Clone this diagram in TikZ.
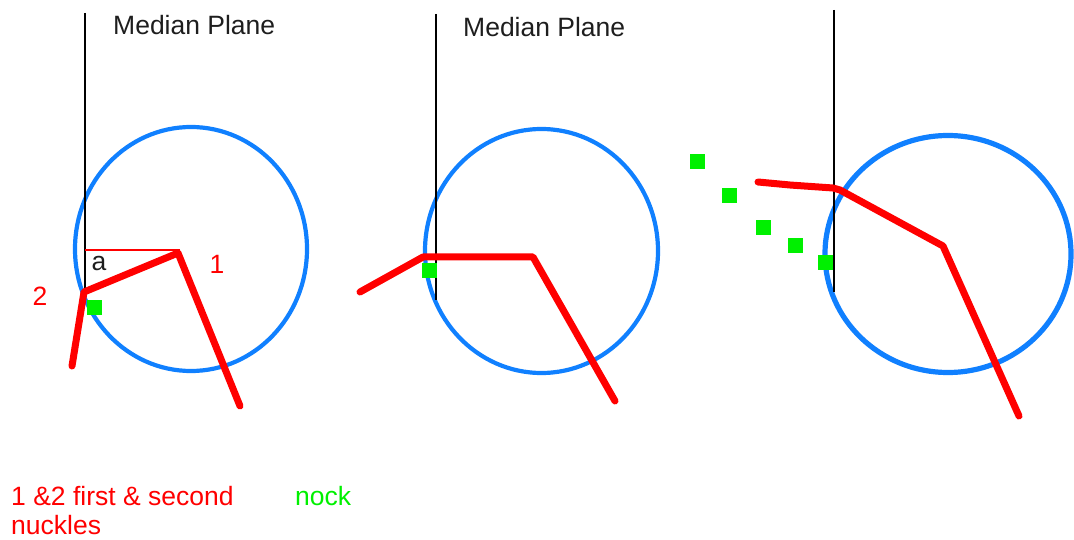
\documentclass[tikz,border=0pt]{standalone}
\usepackage{fontspec}
\setmainfont{Liberation Sans}
\definecolor{circblue}{RGB}{16,128,255}
\definecolor{knred}{RGB}{255,0,0}
\definecolor{nockgreen}{RGB}{0,240,0}
\definecolor{txtgray}{RGB}{30,30,30}
\tikzset{
  plane/.style={draw=black, line width=1.3pt},
  ring/.style={draw=circblue, line width=4.2pt},
  finger/.style={draw=knred, line width=7pt, line cap=round, line join=round},
  thinred/.style={draw=knred, line width=1.2pt},
  nocksq/.style={fill=nockgreen, draw=none, minimum size=15pt, inner sep=0pt, rectangle},
  lbl/.style={font=\fontsize{26.5}{30}\selectfont, inner sep=0pt},
}
\begin{document}
\begin{tikzpicture}[x=1pt, y=-1pt]
\useasboundingbox (0,0) rectangle (1074,540);
% ---------- panel 1 ----------
\draw[ring] (191,249) ellipse [x radius=116, y radius=122];
\coordinate (p1top) at (85,13);
\coordinate (p1bot) at (85,290);
\draw[plane] (p1top) -- (p1bot);
\node[lbl, anchor=base west, text=txtgray] (mp1) at (113,35) {Median Plane};
\coordinate (k1a) at (178,253);
\coordinate (k2a) at (84,292);
\coordinate (e1a) at (72,366);
\coordinate (e2a) at (240,406);
\coordinate (ha) at (85,250);
\draw[thinred] (ha) -- (180,250);
\draw[finger] (e1a) -- (k2a) -- (k1a) -- (e2a);
\node[nocksq] (n1) at (94,307) {};
\node[lbl, text=txtgray] (la) at (99,264) {a};
\node[lbl, text=knred] (l1) at (217,264) {1};
\node[lbl, text=knred] (l2) at (40,296) {2};
% ---------- panel 2 ----------
\draw[ring] (541.5,251) ellipse [x radius=116.5, y radius=122];
\coordinate (p2top) at (436,14);
\coordinate (p2bot) at (436,300);
\draw[plane] (p2top) -- (p2bot);
\node[lbl, anchor=base west, text=txtgray] (mp2) at (463,37) {Median Plane};
\coordinate (e1b) at (360,292);
\coordinate (k2b) at (423,257);
\coordinate (k1b) at (533,257);
\coordinate (e2b) at (615,401);
\draw[finger] (e1b) -- (k2b) -- (k1b) -- (e2b);
\node[nocksq] (n2) at (429,271) {};
% ---------- panel 3 ----------
\draw[ring, line width=5.2pt] (948,254) ellipse [x radius=123, y radius=118.5];
\coordinate (p3top) at (834,10);
\coordinate (p3bot) at (834,292);
\draw[plane] (p3top) -- (p3bot);
\coordinate (e1c) at (758,182);
\coordinate (m1c) at (790,185);
\coordinate (m2c) at (833,188);
\coordinate (k2c) at (840,190);
\coordinate (k1c) at (943,246);
\coordinate (e2c) at (1019,416);
\draw[finger] (e1c) -- (m1c) -- (m2c) -- (k2c) -- (k1c) -- (e2c);
\node[nocksq] (n3a) at (697,162) {};
\node[nocksq] (n3b) at (729,196) {};
\node[nocksq] (n3c) at (763,228) {};
\node[nocksq] (n3d) at (795,246) {};
\node[nocksq] (n3e) at (825,263) {};
% ---------- legend ----------
\node[lbl, anchor=base west, text=knred] (leg1) at (11,505) {1 \&2 first \& second};
\node[lbl, anchor=base west, text=knred] (leg2) at (11,534) {nuckles};
\node[lbl, anchor=base west, text=nockgreen] (leg3) at (295,505) {nock};
\end{tikzpicture}
\end{document}
